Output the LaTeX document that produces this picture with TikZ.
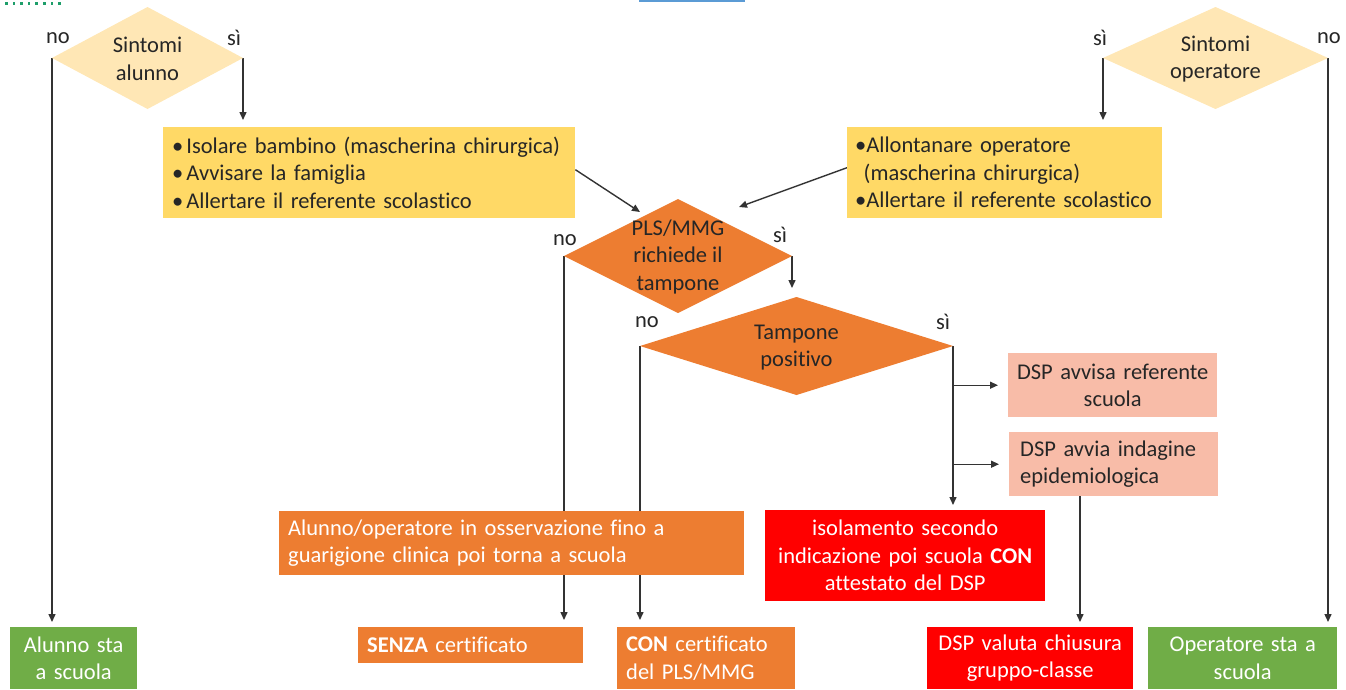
\documentclass[tikz,border=0pt]{standalone}
\usepackage{fontspec}
\setmainfont{Carlito}[Ligatures=NoCommon]
\usetikzlibrary{arrows.meta,backgrounds}
\definecolor{beige}{HTML}{FFE7B5}
\definecolor{ybox}{HTML}{FFD966}
\definecolor{orng}{HTML}{ED7D31}
\definecolor{salmon}{HTML}{F8BCA8}
\definecolor{grn}{HTML}{70AD47}
\definecolor{rd}{HTML}{FF0000}
\definecolor{txt}{HTML}{262626}
\definecolor{ln}{HTML}{333333}
\definecolor{dotgreen}{HTML}{1E9E6A}
\definecolor{blueline}{HTML}{5B9BD5}
\newcommand\flowdia[6]{%
  \path[fill=#6] (#2-#4,#3) coordinate (#1-w) -- (#2,#3-#5) coordinate (#1-n)
    -- (#2+#4,#3) coordinate (#1-e) -- (#2,#3+#5) coordinate (#1-s) -- cycle;}
\begin{document}
\begin{tikzpicture}[x=1pt,y=-1pt,
  fnt/.style={font=\fontsize{22.5}{27.5}\selectfont},
  boxn/.style={rectangle, fnt, anchor=north west, inner xsep=9pt, inner ysep=0pt},
  dtext/.style={fnt, align=center, text=txt, inner sep=0pt},
  lbl/.style={fnt, text=txt, inner sep=0pt},
  arr/.style={draw=ln, line width=1.4pt, -{Triangle[length=8pt,width=7pt]}}]
\useasboundingbox (0,0) rectangle (1346,689);
% stray marks at the top
\foreach \i in {0,...,7} \fill[dotgreen] (5+7.6*\i,1.6) rectangle (7.6+7.6*\i,4.6);
\fill[blueline] (639,0) rectangle (745,1.8);
% diamonds
\flowdia{sa}{147.5}{58}{95.5}{51}{beige}
\flowdia{so}{1215.5}{58}{112.5}{51}{beige}
\flowdia{pls}{678}{256}{114}{57}{orng}
\flowdia{tp}{796.5}{346}{156.5}{49}{orng}
\node[dtext] (sa-t) at (147.5,59) {Sintomi\\alunno};
\node[dtext] (so-t) at (1215.5,59) {Sintomi\\operatore};
\node[dtext] (pls-t) at (678,256.5) {PLS/MMG\\richiede il\\tampone};
\node[dtext] (tp-t) at (796.5,347.5) {Tampone\\positivo};
% labels
\node[lbl] (sa-no) at (58,38) {no};
\node[lbl] (sa-si) at (234,38) {sì};
\node[lbl] (so-si) at (1100,38) {sì};
\node[lbl] (so-no) at (1329,38) {no};
\node[lbl] (pls-no) at (565,240) {no};
\node[lbl] (pls-si) at (780,235) {sì};
\node[lbl] (tp-no) at (647,322) {no};
\node[lbl] (tp-si) at (943,322) {sì};
% boxes
\node[boxn, fill=ybox, text=txt, minimum width=412pt, minimum height=91pt, text width=394pt, align=left] (y1) at (163,127)
  {\textbullet\hspace{3pt}Isolare bambino (mascherina chirurgica)\\\textbullet\hspace{3pt}Avvisare la famiglia\\\textbullet\hspace{3pt}Allertare il referente scolastico};
\node[boxn, fill=ybox, text=txt, minimum width=315pt, minimum height=91pt, text width=299pt, inner xsep=8pt, align=left] (y2) at (847,127)
  {\textbullet Allontanare operatore\\\hspace*{8.5pt}(mascherina chirurgica)\\\textbullet Allertare il referente scolastico};
\node[boxn, fill=salmon, text=txt, minimum width=209pt, minimum height=64pt, inner xsep=2pt, text width=205pt, align=center] (d1) at (1008,353)
  {DSP avvisa referente\\scuola};
\node[boxn, fill=salmon, text=txt, minimum width=209pt, minimum height=64pt, inner xsep=11pt, text width=187pt, align=left] (d2) at (1009,432)
  {DSP avvia indagine\\epidemiologica};
\node[boxn, fill=orng, text=white, minimum width=465pt, minimum height=64pt, text width=447pt, align=left] (obs) at (279,511)
  {Alunno/operatore in osservazione fino a\\guarigione clinica poi torna a scuola};
\node[boxn, fill=rd, text=white, minimum width=280pt, minimum height=91pt, text width=262pt, align=center] (r1) at (765,510)
  {isolamento secondo\\indicazione poi scuola \textbf{CON}\\attestato del DSP};
\node[boxn, fill=grn, text=white, minimum width=127pt, minimum height=62pt, text width=109pt, align=center] (g1) at (10,627)
  {Alunno sta\\a scuola};
\node[boxn, fill=orng, text=white, minimum width=225pt, minimum height=36pt, text width=207pt, align=left] (senza) at (358,627)
  {\textbf{SENZA} certificato};
\node[boxn, fill=orng, text=white, minimum width=178pt, minimum height=62pt, text width=160pt, align=left] (con) at (617,627)
  {\textbf{CON} certificato\\del PLS/MMG};
\node[boxn, fill=rd, text=white, minimum width=206pt, minimum height=62pt, text width=188pt, align=center] (r2) at (927,627)
  {DSP valuta chiusura\\gruppo-classe};
\node[boxn, fill=grn, text=white, minimum width=189pt, minimum height=62pt, text width=171pt, align=center] (g2) at (1148,627)
  {Operatore sta a\\scuola};
\coordinate (pin1) at (640,212);
\coordinate (pin2) at (739,207);
\coordinate (d2b) at ([xshift=71pt]d2.south west);
% connectors
\begin{scope}[on background layer]
\draw[arr, shorten >=5pt] (sa-w) -- (sa-w |- g1.north);
\draw[arr, shorten >=7pt] (sa-e) -- (sa-e |- y1.north);
\draw[arr, shorten >=7pt] (so-w) -- (so-w |- y2.north);
\draw[arr, shorten >=5pt] (so-e) -- (so-e |- g2.north);
\draw[arr] ([yshift=3pt]y1.east) -- (pin1);
\draw[arr] ([yshift=5pt]y2.west) -- (pin2);
\draw[arr, shorten >=9pt] (pls-e) -- (pls-e |- tp-n);
\draw[arr, shorten >=7pt] (pls-w) -- (pls-w |- senza.north);
\draw[arr, shorten >=7pt] (tp-w) -- (tp-w |- con.north);
\draw[arr, shorten >=5pt] (tp-e) -- (tp-e |- r1.north);
\draw[arr, shorten >=10pt] (tp-e |- d1.west) -- (d1.west);
\draw[arr, shorten >=10pt] (tp-e |- d2.west) -- (d2.west);
\draw[arr, shorten >=5pt] (d2b) -- (d2b |- r2.north);
\end{scope}
\end{tikzpicture}
\end{document}
